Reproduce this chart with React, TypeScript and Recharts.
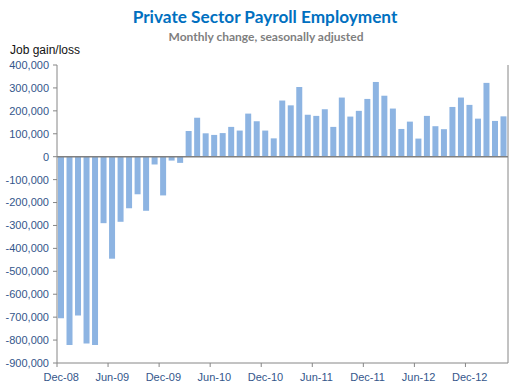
import React from "react";
import { BarChart, Bar, XAxis, YAxis, ReferenceLine } from "recharts";

const months = [
  "Dec-08", "Jan-09", "Feb-09", "Mar-09", "Apr-09", "May-09", "Jun-09", "Jul-09", "Aug-09", "Sep-09", "Oct-09", "Nov-09",
  "Dec-09", "Jan-10", "Feb-10", "Mar-10", "Apr-10", "May-10", "Jun-10", "Jul-10", "Aug-10", "Sep-10", "Oct-10", "Nov-10",
  "Dec-10", "Jan-11", "Feb-11", "Mar-11", "Apr-11", "May-11", "Jun-11", "Jul-11", "Aug-11", "Sep-11", "Oct-11", "Nov-11",
  "Dec-11", "Jan-12", "Feb-12", "Mar-12", "Apr-12", "May-12", "Jun-12", "Jul-12", "Aug-12", "Sep-12", "Oct-12", "Nov-12",
  "Dec-12", "Jan-13", "Feb-13", "Mar-13", "Apr-13",
];

const jobChange = [
  -705000, -822000, -693000, -815000, -822000, -290000, -445000, -284000, -225000, -164000, -236000, -34000,
  -169000, -17000, -27000, 112000, 170000, 102000, 95000, 103000, 130000, 114000, 188000, 155000,
  114000, 80000, 245000, 224000, 304000, 183000, 178000, 207000, 130000, 258000, 175000, 200000,
  252000, 326000, 266000, 210000, 121000, 153000, 79000, 178000, 133000, 120000, 217000, 258000,
  226000, 166000, 322000, 156000, 176000,
];

const yTicks = [400000, 300000, 200000, 100000, 0, -100000, -200000, -300000, -400000, -500000, -600000, -700000, -800000, -900000];

const data = months.map((m, i) => ({ month: m, value: jobChange[i] }));

const fmt = (v: number) => v.toLocaleString("en-US");
const tickColor = "#34568B";
const axisColor = "#868686";
const slot = 451 / months.length;

function MonthTick(props: any) {
  const { x, y, payload } = props;
  return (
    <g>
      <line x1={x - slot / 2} x2={x - slot / 2} y1={y - 4} y2={y - 8} stroke={axisColor} />
      <text x={x} y={y + 10} textAnchor="middle" fontSize={11} fill={tickColor} fontFamily="Liberation Sans, Arial, sans-serif">
        {payload.value}
      </text>
    </g>
  );
}

export default function App() {
  return (
    <div style={{ position: "absolute", left: 0, top: 0, width: 520, height: 391, background: "#fff" }}>
      <div style={{ position: "absolute", left: 0, width: 530, top: 6, textAlign: "center", color: "#0070C0", fontWeight: "bold", fontSize: 17.2, fontFamily: "Lato, sans-serif" }}>
        Private Sector Payroll Employment
      </div>
      <div style={{ position: "absolute", left: 0, width: 532, top: 29, textAlign: "center", color: "#7F7F7F", fontWeight: "bold", fontSize: 12, fontFamily: "Lato, sans-serif" }}>
        Monthly change, seasonally adjusted
      </div>
      <div style={{ position: "absolute", left: 10, top: 43, color: "#111", fontSize: 12, fontFamily: "Liberation Sans, Arial, sans-serif" }}>
        Job gain/loss
      </div>
      <BarChart width={520} height={391} data={data} margin={{ top: 65, right: 6, bottom: 6, left: 0 }} barSize={6}>
        <XAxis
          dataKey="month"
          interval={5}
          tickLine={false}
          axisLine={{ stroke: axisColor }}
          tick={<MonthTick />}
          height={22}
        />
        <YAxis
          yAxisId="left"
          domain={[-900000, 400000]}
          ticks={yTicks}
          tickFormatter={fmt}
          width={57}
          axisLine={{ stroke: axisColor }}
          tickLine={{ stroke: axisColor }}
          tickSize={4}
          tickMargin={4}
          tick={{ fontSize: 11, fill: tickColor, fontFamily: "Liberation Sans, Arial, sans-serif" }}
          interval={0}
        />
        <YAxis
          yAxisId="right"
          orientation="right"
          domain={[-900000, 400000]}
          ticks={yTicks}
          width={6}
          axisLine={{ stroke: axisColor }}
          tickLine={{ stroke: axisColor }}
          tickSize={4}
          tick={() => <g />}
          interval={0}
        />
        <ReferenceLine yAxisId="left" y={0} stroke="#808080" strokeWidth={1.5} />
        <Bar yAxisId="left" dataKey="value" fill="#8DB4E2" isAnimationActive={false} />
      </BarChart>
    </div>
  );
}
